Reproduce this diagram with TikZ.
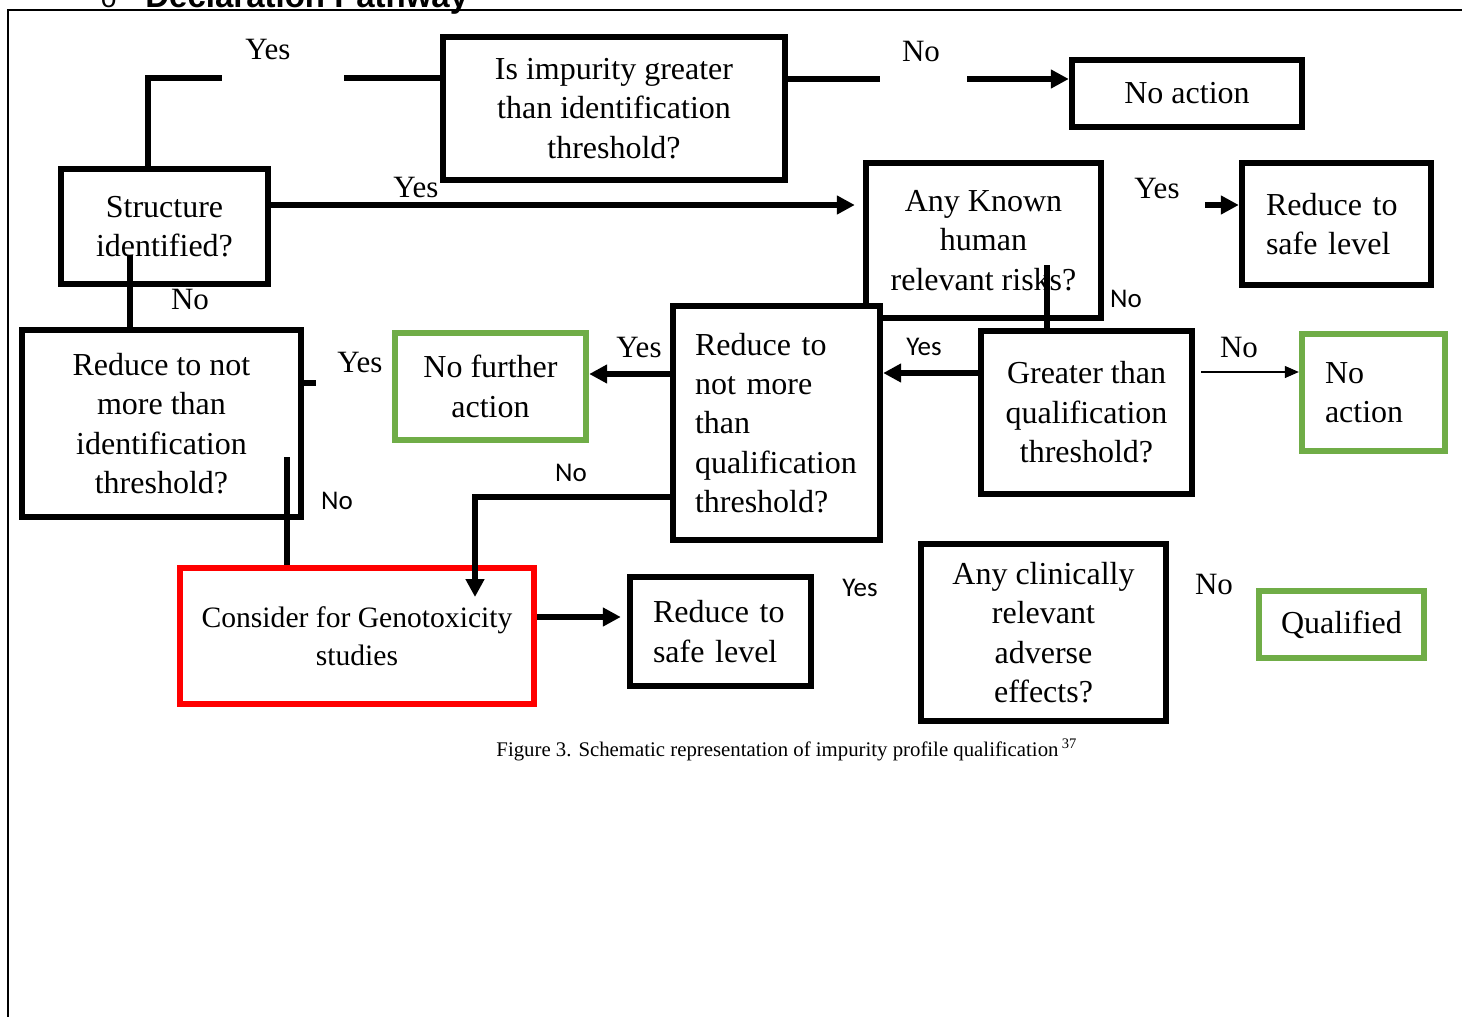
\documentclass[tikz,border=0pt]{standalone}
\usepackage{fontspec}
\setmainfont{Liberation Serif}
\newfontfamily\labelsans{Carlito}
\newfontfamily\headsans{Liberation Sans}
\newfontfamily\bulletmono{Liberation Mono}
\usetikzlibrary{arrows.meta}
\definecolor{okgreen}{RGB}{112,173,71}
\newcommand{\boxfont}{\fontsize{16}{19.7}\selectfont}

\begin{document}
\begin{tikzpicture}[x=0.5pt, y=-0.5pt,
	box/.style={rectangle, draw, line width=3.2pt, fill=white, inner sep=0pt, align=center, font=\boxfont},
	okbox/.style={box, draw=okgreen},
	leftbox/.style={box, align=left, inner xsep=11pt},
	conn/.style={line width=3.2pt},
	thinconn/.style={line width=0.6pt, -{Triangle[length=7pt, width=6pt]}},
	lbl/.style={font=\fontsize{15.5}{18}\selectfont},
	slbl/.style={font=\labelsans\fontsize{13.5}{16}\selectfont},
	>={Triangle[length=9pt, width=9pt]}
]
\useasboundingbox (0,0) rectangle (1462,1017);
\draw[line width=1pt] (8,1030) -- (8,10) -- (1480,10);

\node[anchor=base west, inner sep=0pt, font=\bulletmono\fontsize{14}{16}\selectfont] (bullet) at (100,7) {o};
\node[anchor=base west, inner sep=0pt, font=\headsans\bfseries\fontsize{16.5}{18}\selectfont] (heading) at (145,7) {Declaration Pathway};

\node[box, minimum width=171pt, minimum height=71.5pt] (impur) at (614,108.5) {Is impurity greater\\than identification\\threshold?};
\node[box, minimum width=115pt, minimum height=33.5pt] (noact) at (1187,93.5) {No action};
\node[box, minimum width=103.5pt, minimum height=57.5pt] (struct) at (164.5,226.5) {Structure\\identified?};
\node[box, minimum width=117.5pt, minimum height=77.5pt] (known) at (983.5,240.5) {Any Known\\human\\relevant risks?};
\node[leftbox, text width=70.5pt, inner xsep=12pt, minimum height=61pt] (safetop) at (1336.5,224) {Reduce to\\safe level};
\node[box, minimum width=139.5pt, minimum height=93.5pt] (ident) at (161.5,423.5) {Reduce to not\\more than\\identification\\threshold?};
\node[okbox, minimum width=95.5pt, minimum height=53.5pt] (nofurther) at (490.5,386.5) {No further\\action};
\node[leftbox, text width=81.5pt, minimum height=117pt] (nmtq) at (776.5,423) {Reduce to\\not more\\than\\qualification\\threshold?};
\node[box, minimum width=105.5pt, minimum height=81.5pt] (greater) at (1086.5,412.5) {Greater than\\qualification\\threshold?};
\node[leftbox, draw=okgreen, text width=48.5pt, inner xsep=11.5pt, minimum height=58.5pt] (noactg) at (1373.5,392.5) {No\\action};
\node[box, draw=red, minimum width=177pt, minimum height=68pt, font=\fontsize{14.8}{19}\selectfont] (geno) at (357,636) {Consider for Genotoxicity\\studies};
\node[leftbox, text width=67.5pt, inner xsep=11.5pt, minimum height=54.5pt] (safebot) at (720.5,631.5) {Reduce to\\safe level};
\node[box, minimum width=122.5pt, minimum height=88.5pt] (clin) at (1043.5,632.5) {Any clinically\\relevant\\adverse\\effects?};
\node[okbox, minimum width=82.5pt, minimum height=33.5pt] (qual) at (1341.5,624.5) {Qualified};

\coordinate (ysL) at (222,78);
\coordinate (ysR) at (344,78);
\coordinate (nL) at (880,79);
\coordinate (nR) at (967,79);
\coordinate (ky) at (600,205);
\coordinate (ks) at (1205,205);
\coordinate (kn) at (1047,265);
\coordinate (gq) at (1240,372);
\coordinate (gy) at (930,373);
\coordinate (ny) at (630,374);
\coordinate (nd) at (600,497);
\coordinate (gd) at (475,597);
\coordinate (iy) at (316,383);
\coordinate (in) at (287,457);
\coordinate (sn) at (130,255);
\coordinate (gs) at (580,617);

\draw[conn] ([xshift=-8.25pt]struct.north) |- (ysL);
\draw[conn] (ysR) -- (impur.west |- ysR);
\draw[conn] (impur.east |- nL) -- (nL);
\draw[conn, ->] (nR) -- (noact.west |- nR);
\draw[conn, ->, shorten >=4pt] (struct.east |- ky) -- (known.west |- ky);
\draw[conn, ->] (ks) -- (safetop.west |- ks);
\draw[conn] (kn) -- (greater.north -| kn);
\draw[thinconn, shorten <=3pt] (greater.east |- gq) -- (noactg.west |- gq);
\draw[conn, ->] (greater.west |- gy) -- (nmtq.east |- gy);
\draw[conn, ->] (nmtq.west |- ny) -- (nofurther.east |- ny);
\draw[conn, ->] (nmtq.west |- nd) -| (gd);
\draw[conn] (ident.east |- iy) -- (iy);
\draw[conn] (in) -- (geno.north -| in);
\draw[conn] (sn) -- (ident.north -| sn);
\draw[conn, ->, shorten >=3pt] (geno.east |- gs) -- (safebot.west |- gs);

\node[lbl] (yesA) at (268,50) {Yes};
\node[lbl] (noA) at (921,52) {No};
\node[lbl] (yesB) at (416,188) {Yes};
\node[lbl] (yesC) at (1157,189) {Yes};
\node[slbl] (noB) at (1126,299) {No};
\node[lbl] (noC) at (190,299) {No};
\node[lbl] (yesD) at (360,362) {Yes};
\node[lbl] (yesE) at (639,347) {Yes};
\node[slbl] (yesF) at (924,347) {Yes};
\node[lbl] (noD) at (1239,347) {No};
\node[slbl] (noE) at (571,473) {No};
\node[slbl] (noF) at (337,501) {No};
\node[slbl] (yesG) at (860,588) {Yes};
\node[lbl] (noG) at (1214,584) {No};

\node[font=\fontsize{10.4}{12}\selectfont] (caption) at (787,750) {Figure 3. Schematic representation of impurity profile qualification\,\textsuperscript{37}};
\end{tikzpicture}
\end{document}
